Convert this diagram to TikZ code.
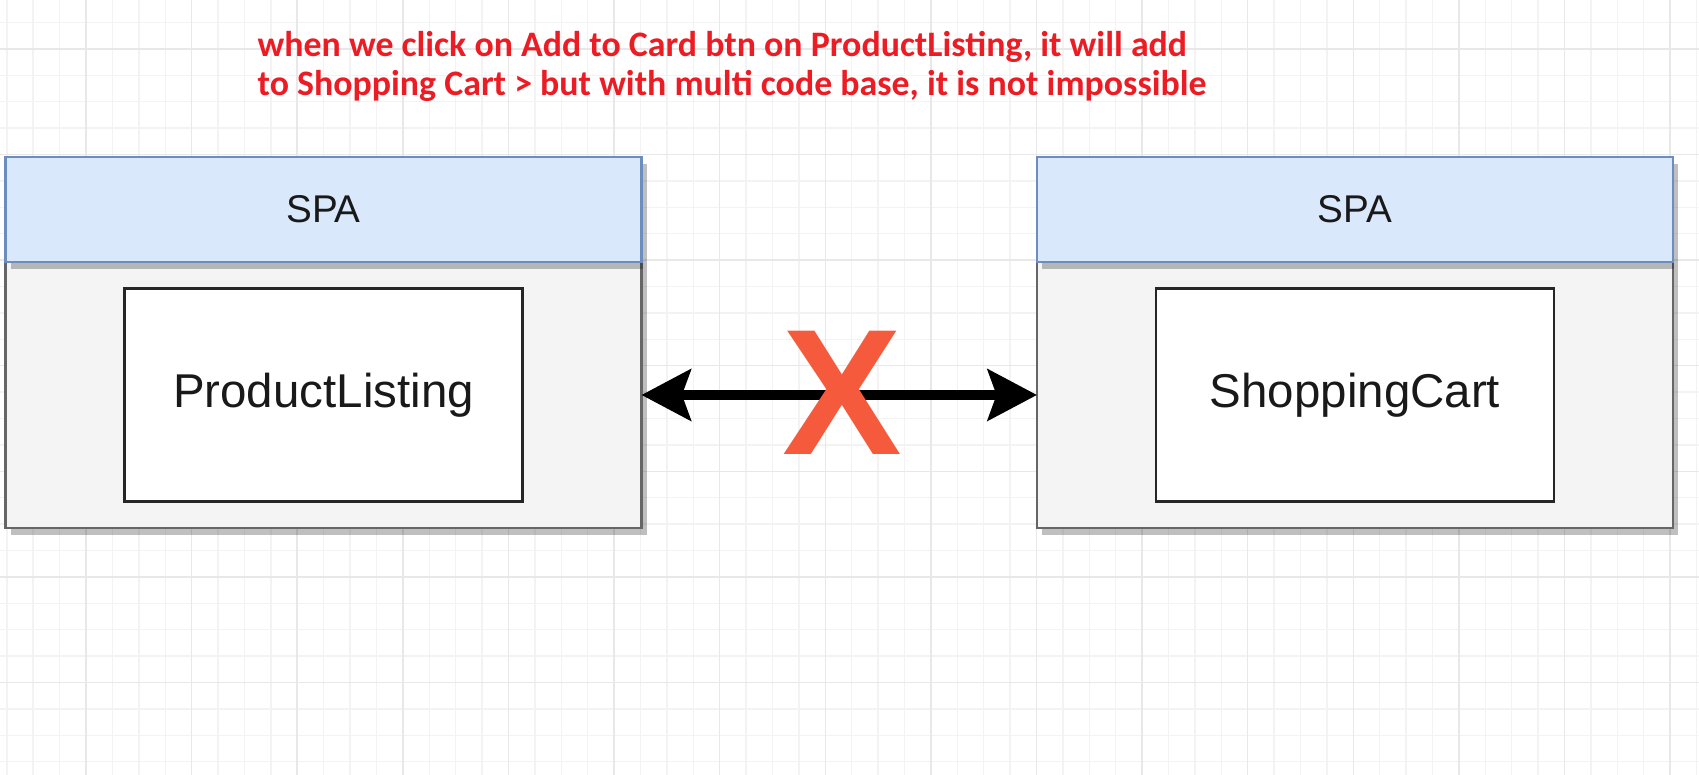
\documentclass[tikz,border=0pt]{standalone}
\usepackage{fontspec}
\setmainfont{Liberation Sans}
\newfontfamily\notefont{Carlito}
\usetikzlibrary{positioning,arrows.meta,shadows}

\definecolor{spaBlue}{HTML}{DAE8FC}
\definecolor{spaEdge}{HTML}{6C8EBF}
\definecolor{bodyFill}{HTML}{F4F4F4}
\definecolor{bodyEdge}{HTML}{666666}
\definecolor{noteRed}{RGB}{236,28,36}
\definecolor{crossRed}{RGB}{245,90,60}
\definecolor{gridMinor}{HTML}{F3F3F3}
\definecolor{gridMajor}{HTML}{E8E8E8}

\begin{document}
\begin{tikzpicture}[
    boxshadow/.style={drop shadow={shadow xshift=0.05cm, shadow yshift=-0.07cm,
                      fill=black, opacity=0.25}},
    spabody/.style={rectangle, draw=bodyEdge, fill=bodyFill, line width=0.7pt,
                    minimum width=6.36cm, minimum height=2.66cm, outer sep=0pt,
                    boxshadow},
    spahead/.style={rectangle, draw=spaEdge, fill=spaBlue, line width=0.6pt,
                    minimum width=6.36cm, minimum height=1.05cm, outer sep=0pt,
                    font=\fontsize{11}{13}\selectfont, text=black!90, boxshadow},
    part/.style={rectangle, draw=black!85, fill=white, line width=0.8pt,
                 minimum width=3.98cm, minimum height=2.13cm, outer sep=0pt,
                 font=\fontsize{13.5}{16}\selectfont, text=black!90},
    link/.style={{Stealth[length=14pt, width=14.5pt, inset=2.5pt]}-{Stealth[length=14pt, width=14.5pt, inset=2.5pt]},
                 line width=2.8pt, black},
    note/.style={font=\notefont\bfseries\fontsize{10.2}{11.1}\selectfont,
                 text=noteRed, align=left, inner sep=0pt},
    cross/.style={font=\bfseries\fontsize{51}{51}\selectfont, text=crossRed,
                  inner sep=0pt},
  ]
  \useasboundingbox (0,0) rectangle (16.99,7.75);

  % background grid (draw.io style)
  \begin{scope}
    \clip (0,0) rectangle (16.99,7.75);
    \draw[gridMinor, line width=0.4pt, shift={(0.068,0.132)}]
      (-0.6,-0.6) grid[step=0.264] (17.4,8.2);
    \draw[gridMajor, line width=0.4pt, shift={(0.86,0.924)}]
      (-1.1,-1.1) grid[step=1.056] (16.9,7.4);
  \end{scope}

  % left single page app
  \node[spabody] (leftbody) at (3.235,3.80) {};
  \node[spahead, above=0pt of leftbody] (lefthead) {SPA};
  \node[part] (listing) at (leftbody.center) {ProductListing};

  % right single page app
  \node[spabody, right=3.955cm of leftbody] (rightbody) {};
  \node[spahead, above=0pt of rightbody] (righthead) {SPA};
  \node[part] (cart) at (rightbody.center) {ShoppingCart};

  % communication that is not possible
  \draw[link] (leftbody.east) -- (rightbody.west);
  \node[cross, anchor=base] (nogo) at (8.42,3.20) {X};

  \node[note, anchor=base west] (remark) at (2.57,6.79)
    {when we click on Add to Card btn on ProductListing, it will add\\
     to Shopping Cart > but with multi code base, it is not impossible};
\end{tikzpicture}
\end{document}
